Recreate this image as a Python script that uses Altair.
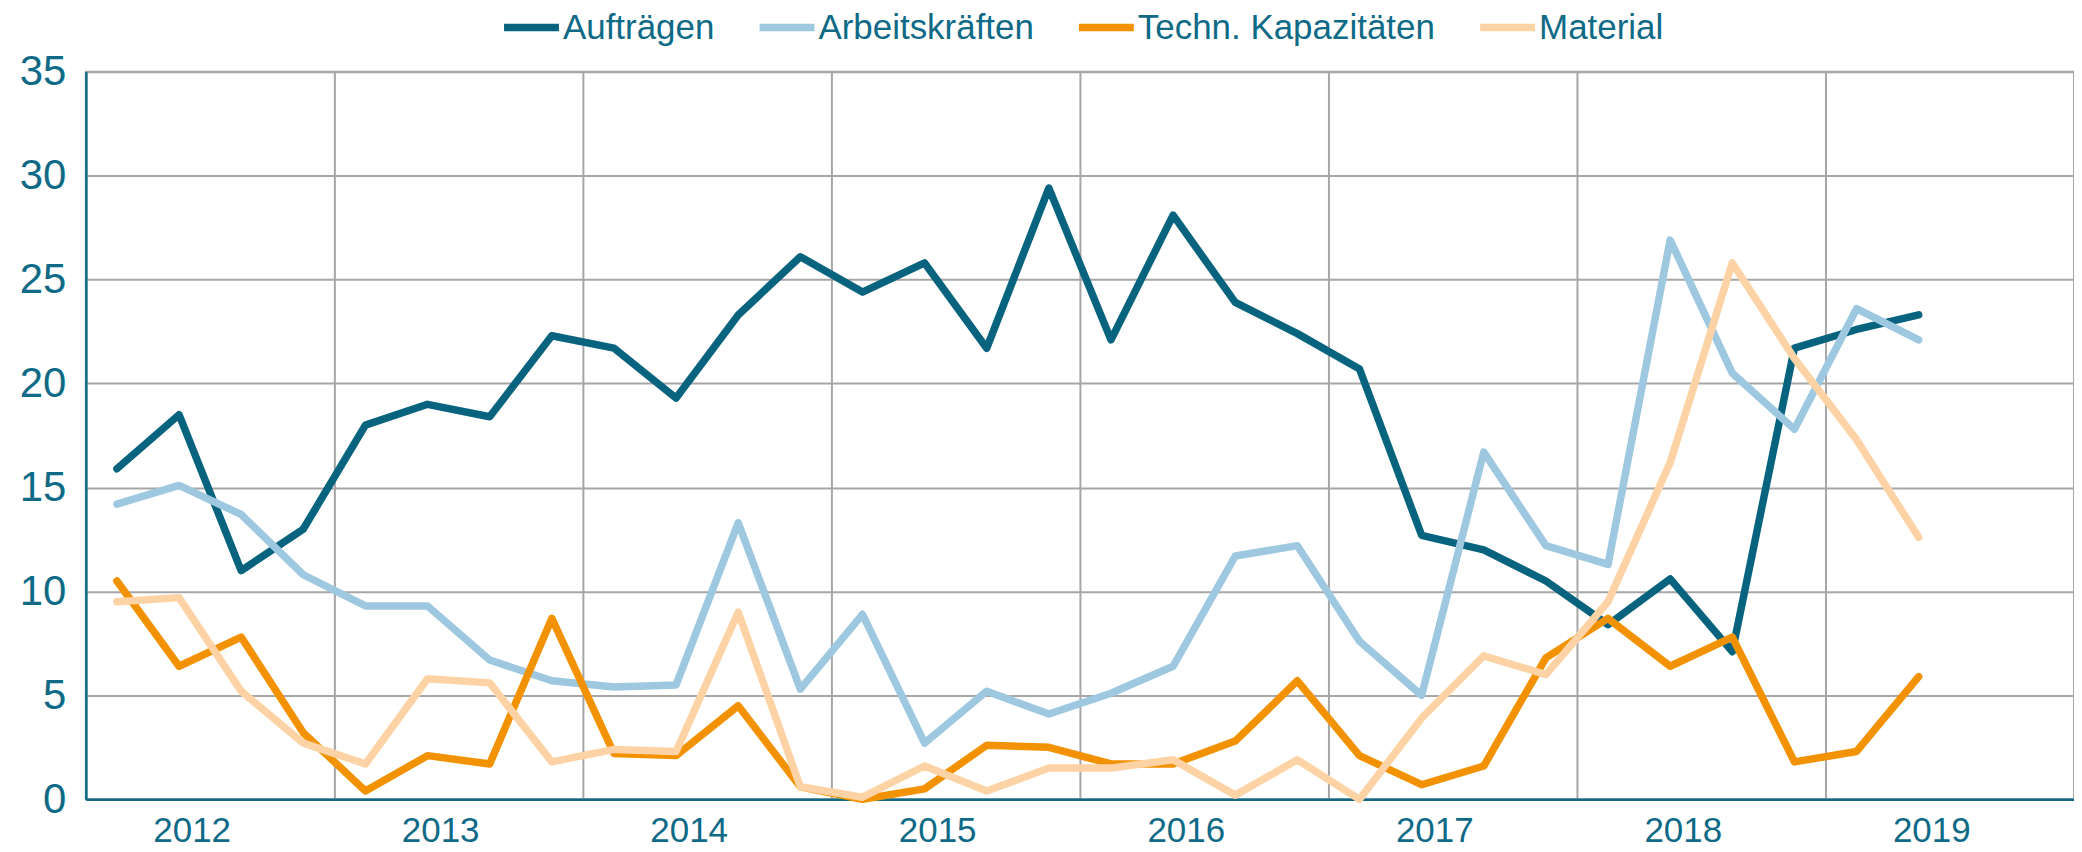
import altair as alt
import pandas as pd

series_names = ["Aufträgen", "Arbeitskräften", "Techn. Kapazitäten", "Material"]
series_colors = ["#08637F", "#9DC8E0", "#F39200", "#FDD3A5"]

years = [2012, 2013, 2014, 2015, 2016, 2017, 2018, 2019]
quarters_per_year = 4

auftraegen = [15.9, 18.5, 11.0, 13.0, 18.0, 19.0, 18.4, 22.3, 21.7, 19.3, 23.3, 26.1,
              24.4, 25.8, 21.7, 29.4, 22.1, 28.1, 23.9, 22.4, 20.7, 12.7, 12.0, 10.5,
              8.4, 10.6, 7.1, 21.7, 22.6, 23.3]
arbeitskraefte = [14.2, 15.1, 13.7, 10.8, 9.3, 9.3, 6.7, 5.7, 5.4, 5.5, 13.3, 5.3,
                  8.9, 2.7, 5.2, 4.1, 5.1, 6.4, 11.7, 12.2, 7.6, 5.0, 16.7, 12.2,
                  11.3, 26.9, 20.5, 17.8, 23.6, 22.1]
techn_kap = [10.5, 6.4, 7.8, 3.2, 0.4, 2.1, 1.7, 8.7, 2.2, 2.1, 4.5, 0.6,
             0.0, 0.5, 2.6, 2.5, 1.7, 1.7, 2.8, 5.7, 2.1, 0.7, 1.6, 6.8,
             8.7, 6.4, 7.8, 1.8, 2.3, 5.9]
material = [9.5, 9.7, 5.2, 2.7, 1.7, 5.8, 5.6, 1.8, 2.4, 2.3, 9.0, 0.6,
            0.1, 1.6, 0.4, 1.5, 1.5, 1.9, 0.2, 1.9, 0.0, 3.9, 6.9, 6.0,
            9.5, 16.2, 25.8, 21.2, 17.3, 12.6]

all_values = [auftraegen, arbeitskraefte, techn_kap, material]

rows = []
for name, vals in zip(series_names, all_values):
    for i, v in enumerate(vals):
        rows.append({"series": name, "pos": i + 0.5, "value": v})
df = pd.DataFrame(rows)

n_cat = len(years) * quarters_per_year
TEXT = "#0E6A86"
GRID = "#A6A6A6"
FONT = "Liberation Sans"

color_scale = alt.Scale(domain=series_names, range=series_colors)

x_enc = alt.X(
    "pos:Q",
    scale=alt.Scale(domain=[0, n_cat], nice=False, zero=False),
    axis=alt.Axis(
        values=list(range(0, n_cat + 1, quarters_per_year)),
        labelExpr=f"datum.value < {n_cat} ? '' + (2012 + datum.value / 4) : ''",
        labelOffset=106,
        labelPadding=14,
        labelFontSize=35,
        labelColor=TEXT,
        labelFont=FONT,
        labelBound=False,
        labelFlush=False,
        labelOverlap=False,
        ticks=False,
        grid=True,
        gridColor=GRID,
        gridWidth=2,
        domainColor=TEXT,
        domainWidth=2.5,
        title=None,
    ),
)
y_enc = alt.Y(
    "value:Q",
    scale=alt.Scale(domain=[0, 35], nice=False),
    axis=alt.Axis(
        values=list(range(0, 36, 5)),
        labelFontSize=42,
        labelColor=TEXT,
        labelFont=FONT,
        labelPadding=20,
        ticks=False,
        grid=True,
        gridColor=GRID,
        gridWidth=2,
        domainColor=TEXT,
        domainWidth=2.5,
        title=None,
    ),
)

layers = []
for name in series_names:
    layers.append(
        alt.Chart(df)
        .transform_filter(alt.datum.series == name)
        .mark_line(strokeWidth=7.5, strokeJoin="round", strokeCap="round")
        .encode(
            x=x_enc,
            y=y_enc,
            color=alt.Color(
                "series:N",
                scale=color_scale,
                legend=alt.Legend(
                    title=None,
                    orient="none",
                    direction="horizontal",
                    legendX=415,
                    legendY=-76,
                    symbolType="stroke",
                    symbolSize=3025,
                    symbolStrokeWidth=7.5,
                    labelFontSize=35,
                    labelFont=FONT,
                    labelColor=TEXT,
                    labelOffset=0,
                    labelLimit=0,
                    columnPadding=30,
                    padding=0,
                ),
            ),
        )
    )

chart = (
    alt.layer(*layers)
    .properties(
        width=1992,
        height=729,
        autosize=alt.AutoSizeParams(type="none"),
        padding={"left": 78, "top": 63, "right": 0, "bottom": 52},
    )
    .configure_view(stroke=GRID, strokeWidth=2)
)

chart.save("out.html", embed_options={"renderer": "svg", "actions": False})
